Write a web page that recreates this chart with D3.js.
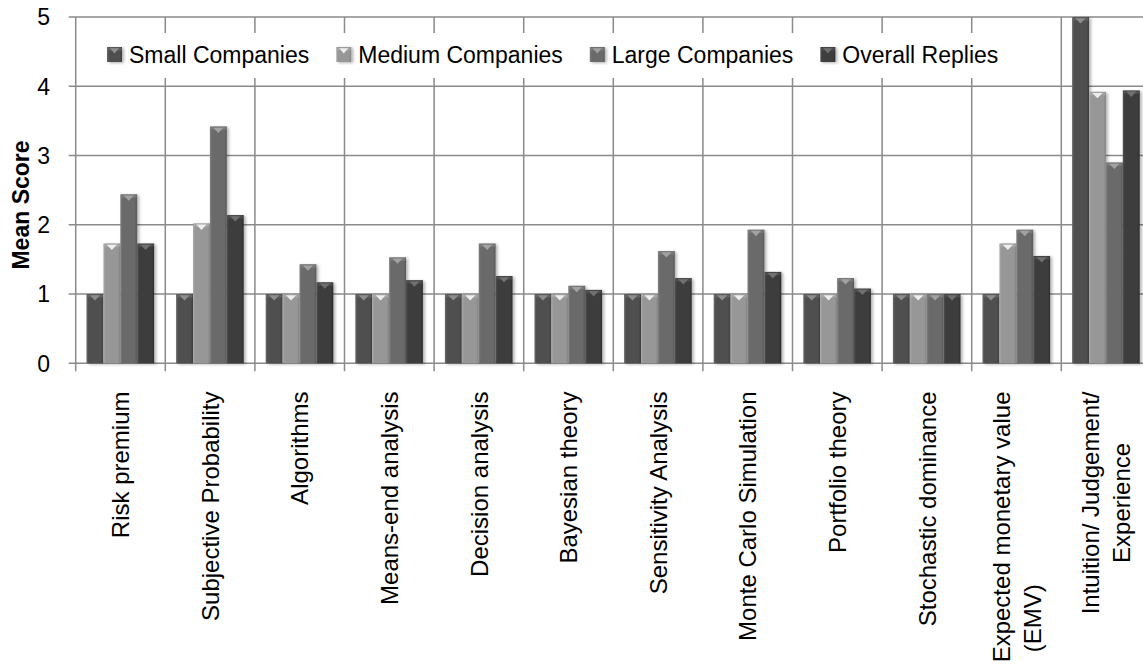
<!DOCTYPE html>
<html>
<head>
<meta charset="utf-8">
<script src="https://cdn.jsdelivr.net/npm/d3@7"></script>
<style>
  html, body { margin: 0; padding: 0; background: #fff; }
  svg { display: block; font-family: "Liberation Sans", Arial, sans-serif; }
</style>
</head>
<body>
<svg id="chart" width="1143" height="671"></svg>
<script>
// Mean score of each decision technique, by company size
const categories = [
  "Risk premium", "Subjective Probability", "Algorithms", "Means-end analysis",
  "Decision analysis", "Bayesian theory", "Sensitivity Analysis", "Monte Carlo Simulation",
  "Portfolio theory", "Stochastic dominance", "Expected monetary value (EMV)",
  "Intuition/ Judgement/ Experience"
];
const categoryLines = [
  ["Risk premium"], ["Subjective Probability"], ["Algorithms"], ["Means-end analysis"],
  ["Decision analysis"], ["Bayesian theory"], ["Sensitivity Analysis"], ["Monte Carlo Simulation"],
  ["Portfolio theory"], ["Stochastic dominance"], ["Expected monetary value", "(EMV)"],
  ["Intuition/ Judgement/", "Experience"]
];
const seriesNames = ["Small Companies", "Medium Companies", "Large Companies", "Overall Replies"];
const smallCompanies  = [1, 1, 1, 1, 1, 1, 1, 1, 1, 1, 1, 5];
const mediumCompanies = [1.73, 2.02, 1, 1, 1, 1, 1, 1, 1, 1, 1.73, 3.92];
const largeCompanies  = [2.44, 3.42, 1.43, 1.53, 1.73, 1.12, 1.62, 1.93, 1.23, 1, 1.93, 2.9];
const overallReplies  = [1.73, 2.14, 1.17, 1.2, 1.26, 1.06, 1.23, 1.32, 1.08, 1, 1.55, 3.94];
const yTicks = [0, 1, 2, 3, 4, 5];

const seriesValues = [smallCompanies, mediumCompanies, largeCompanies, overallReplies];
const rows = categories.map((c, i) => ({
  category: c, i,
  values: seriesNames.map((s, k) => ({ series: s, k, value: seriesValues[k][i] }))
}));

// grey shades per series: body, light edge, dark edge, top highlight
const shades = [
  { body: "#505050", light: "#6a6a6a", dark: "#3e3e3e", tip: "#8e8e8e" },
  { body: "#979797", light: "#ababab", dark: "#838383", tip: "#eeeeee" },
  { body: "#6b6b6b", light: "#808080", dark: "#585858", tip: "#a2a2a2" },
  { body: "#3d3d3d", light: "#525252", dark: "#2e2e2e", tip: "#707070" }
];

const svg = d3.select("#chart");
const margin = { left: 75.7, top: 17, bottom: 363.3 };
const bandStep = 89.6;

const x0 = d3.scaleBand()
  .domain(categories)
  .range([margin.left, margin.left + bandStep * categories.length])
  .paddingInner(0).paddingOuter(0);
const x1 = d3.scaleBand()
  .domain(seriesNames)
  .range([10.8, 78.4])
  .padding(0);
const y = d3.scaleLinear().domain([0, 5]).range([margin.bottom, margin.top]);

const defs = svg.append("defs");
shades.forEach((s, k) => {
  const g = defs.append("linearGradient").attr("id", "grad" + k)
    .attr("x1", "0").attr("x2", "1").attr("y1", "0").attr("y2", "0");
  g.append("stop").attr("offset", "0").attr("stop-color", s.light);
  g.append("stop").attr("offset", "0.12").attr("stop-color", s.body);
  g.append("stop").attr("offset", "0.85").attr("stop-color", s.body);
  g.append("stop").attr("offset", "1").attr("stop-color", s.dark);
});
const shadow = defs.append("filter").attr("id", "shadow")
  .attr("x", "-30%").attr("y", "-10%").attr("width", "170%").attr("height", "130%");
shadow.append("feDropShadow").attr("dx", 2).attr("dy", 1)
  .attr("stdDeviation", 1.6).attr("flood-color", "#000").attr("flood-opacity", 0.3);

const gridColor = "#8a8a8a";
const plotRight = x0.range()[1];

// horizontal gridlines with tick stubs on the left
svg.append("g").selectAll("line").data(yTicks).join("line")
  .attr("x1", margin.left - 7).attr("x2", plotRight)
  .attr("y1", d => y(d)).attr("y2", d => y(d))
  .attr("stroke", gridColor).attr("stroke-width", 1.5);

// vertical gridlines at category boundaries, extending below the axis as ticks
const boundaries = categories.map(c => x0(c)).concat([plotRight]);
svg.append("g").selectAll("line").data(boundaries).join("line")
  .attr("x1", d => d).attr("x2", d => d)
  .attr("y1", y(5)).attr("y2", y(0) + 8)
  .attr("stroke", gridColor).attr("stroke-width", 1.5);

// y tick labels
svg.append("g").selectAll("text").data(yTicks).join("text")
  .attr("x", 50).attr("y", d => y(d))
  .attr("dy", "0.36em")
  .attr("text-anchor", "end")
  .attr("font-size", 23).attr("fill", "#000")
  .text(d => d);

// y axis title
svg.append("text")
  .attr("transform", "translate(29,205) rotate(-90)")
  .attr("text-anchor", "middle")
  .attr("font-size", 23).attr("font-weight", "bold")
  .text("Mean Score");

// legend
const legend = svg.append("g");
legend.append("rect").attr("x", 89).attr("y", 33).attr("width", 950).attr("height", 45).attr("fill", "#fff");

function drawBar(g, bx, by, bw, bh, k) {
  const s = shades[k];
  g.append("rect").attr("x", bx).attr("y", by).attr("width", bw).attr("height", bh)
    .attr("fill", `url(#grad${k})`).attr("filter", "url(#shadow)");
  g.append("rect").attr("x", bx + 0.5).attr("y", by + 0.5).attr("width", bw - 1).attr("height", Math.min(3, bh))
    .attr("fill", s.light).attr("opacity", 0.7);
  if (bh > 6) {
    g.append("path")
      .attr("d", `M${bx + bw * 0.2},${by + 1.2}L${bx + bw * 0.8},${by + 1.2}L${bx + bw / 2},${by + 6.5}Z`)
      .attr("fill", s.tip);
  }
}

let lx = 107;
seriesNames.forEach((name, k) => {
  const item = legend.append("g");
  drawBar(item, lx, 47, 15, 15, k);
  const t = item.append("text").attr("x", lx + 22).attr("y", 55).attr("dy", "0.36em")
    .attr("font-size", 23).attr("fill", "#000").text(name);
  lx += 22 + t.node().getComputedTextLength() + 27;
});

// bars
const barsG = svg.append("g");
rows.forEach(row => {
  const g = barsG.append("g").attr("transform", `translate(${x0(row.category)},0)`);
  row.values.forEach(v => {
    drawBar(g, x1(v.series), y(v.value), x1.bandwidth(), y(0) - y(v.value), v.k);
  });
});

// category labels, rotated, hanging from below the axis
const labelTop = 391.5;
const lineGap = 31;
categories.forEach((c, i) => {
  const lines = categoryLines[i];
  const cx = x0(c) + x0.bandwidth() / 2;
  const g = svg.append("g");
  const texts = lines.map((ln, j) => g.append("text")
    .attr("font-size", 24).attr("fill", "#000").text(ln));
  const lens = texts.map(t => t.node().getComputedTextLength());
  const maxLen = d3.max(lens);
  const n = lines.length;
  // the EMV label keeps its second line near the bottom of the first
  const bottomAligned = c.indexOf("(EMV)") >= 0;
  texts.forEach((t, j) => {
    const lxPos = cx + (j - (n - 1) / 2) * lineGap;
    if (bottomAligned) {
      const start = labelTop + maxLen - (lens[j] < maxLen ? 10 : 0);
      t.attr("text-anchor", "start")
        .attr("dy", "0.36em")
        .attr("transform", `translate(${lxPos},${start}) rotate(-90)`);
    } else {
      const cy = labelTop + maxLen / 2;
      t.attr("text-anchor", "middle")
        .attr("dy", "0.36em")
        .attr("transform", `translate(${lxPos},${cy}) rotate(-90)`);
    }
  });
});
</script>
</body>
</html>
